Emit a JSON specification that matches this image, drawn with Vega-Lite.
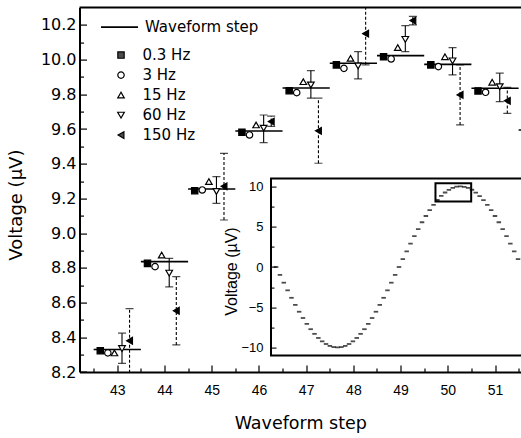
{
  "$schema": "https://vega.github.io/schema/vega-lite/v6.json",
  "width": 441.5,
  "height": 364.4,
  "autosize": {"type": "none"},
  "padding": {"left": 79.5, "top": 7.6, "right": 0, "bottom": 66},
  "background": "white",
  "config": {"view": {"stroke": null}, "axis": {"grid": false}, "legend": {"labelLimit": 300}},
  "datasets": {
    "steps": [
      {"step": 43, "x0": 42.5, "x1": 43.5, "v": 8.33},
      {"step": 44, "x0": 43.5, "x1": 44.5, "v": 8.836},
      {"step": 45, "x0": 44.5, "x1": 45.5, "v": 9.255},
      {"step": 46, "x0": 45.5, "x1": 46.5, "v": 9.589},
      {"step": 47, "x0": 46.5, "x1": 47.5, "v": 9.837},
      {"step": 48, "x0": 47.5, "x1": 48.5, "v": 9.979},
      {"step": 49, "x0": 48.5, "x1": 49.5, "v": 10.023},
      {"step": 50, "x0": 49.5, "x1": 50.5, "v": 9.973},
      {"step": 51, "x0": 50.5, "x1": 51.5, "v": 9.835},
      {"step": 52, "x0": 51.5, "x1": 52.5, "v": 9.595}
    ],
    "pts": [
      {"freq": "0.3 Hz", "x": 42.64, "v": 8.323},
      {"freq": "3 Hz", "x": 42.8, "v": 8.31},
      {"freq": "15 Hz", "x": 42.94, "v": 8.31},
      {"freq": "60 Hz", "x": 43.1, "v": 8.335, "lo": 8.25, "hi": 8.424},
      {"freq": "150 Hz", "x": 43.26, "v": 8.38, "lo": 8.195, "hi": 8.565},
      {"freq": "0.3 Hz", "x": 43.64, "v": 8.826},
      {"freq": "3 Hz", "x": 43.8, "v": 8.807},
      {"freq": "15 Hz", "x": 43.94, "v": 8.874},
      {"freq": "60 Hz", "x": 44.1, "v": 8.77, "lo": 8.69, "hi": 8.855},
      {"freq": "150 Hz", "x": 44.25, "v": 8.553, "lo": 8.356, "hi": 8.75},
      {"freq": "0.3 Hz", "x": 44.64, "v": 9.245},
      {"freq": "3 Hz", "x": 44.8, "v": 9.249},
      {"freq": "15 Hz", "x": 44.94, "v": 9.297},
      {"freq": "60 Hz", "x": 45.1, "v": 9.24, "lo": 9.172, "hi": 9.326},
      {"freq": "150 Hz", "x": 45.26, "v": 9.27, "lo": 9.076, "hi": 9.46},
      {"freq": "0.3 Hz", "x": 45.64, "v": 9.582},
      {"freq": "3 Hz", "x": 45.8, "v": 9.566},
      {"freq": "15 Hz", "x": 45.94, "v": 9.624},
      {"freq": "60 Hz", "x": 46.1, "v": 9.605, "lo": 9.522, "hi": 9.681},
      {"freq": "150 Hz", "x": 46.26, "v": 9.643, "lo": 9.615, "hi": 9.675},
      {"freq": "0.3 Hz", "x": 46.64, "v": 9.821},
      {"freq": "3 Hz", "x": 46.8, "v": 9.81},
      {"freq": "15 Hz", "x": 46.94, "v": 9.873},
      {"freq": "60 Hz", "x": 47.1, "v": 9.854, "lo": 9.778, "hi": 9.937},
      {"freq": "150 Hz", "x": 47.26, "v": 9.59, "lo": 9.403, "hi": 9.778},
      {"freq": "0.3 Hz", "x": 47.64, "v": 9.97},
      {"freq": "3 Hz", "x": 47.8, "v": 9.95},
      {"freq": "15 Hz", "x": 47.94, "v": 10.008},
      {"freq": "60 Hz", "x": 48.1, "v": 9.964, "lo": 9.889, "hi": 10.046},
      {"freq": "150 Hz", "x": 48.26, "v": 10.15, "lo": 9.97, "hi": 10.33},
      {"freq": "0.3 Hz", "x": 48.64, "v": 10.017},
      {"freq": "3 Hz", "x": 48.8, "v": 10.004},
      {"freq": "15 Hz", "x": 48.94, "v": 10.07},
      {"freq": "60 Hz", "x": 49.1, "v": 10.117, "lo": 10.046, "hi": 10.196},
      {"freq": "150 Hz", "x": 49.26, "v": 10.225, "lo": 10.2, "hi": 10.25},
      {"freq": "0.3 Hz", "x": 49.64, "v": 9.97},
      {"freq": "3 Hz", "x": 49.8, "v": 9.96},
      {"freq": "15 Hz", "x": 49.94, "v": 10.017},
      {"freq": "60 Hz", "x": 50.1, "v": 9.993, "lo": 9.912, "hi": 10.069},
      {"freq": "150 Hz", "x": 50.26, "v": 9.797, "lo": 9.624, "hi": 9.97},
      {"freq": "0.3 Hz", "x": 50.64, "v": 9.82},
      {"freq": "3 Hz", "x": 50.8, "v": 9.812},
      {"freq": "15 Hz", "x": 50.94, "v": 9.87},
      {"freq": "60 Hz", "x": 51.1, "v": 9.844, "lo": 9.758, "hi": 9.922},
      {"freq": "150 Hz", "x": 51.26, "v": 9.763, "lo": 9.69, "hi": 9.84}
    ],
    "sine": [
      {"n": 1, "v": 0}, {"n": 2, "v": -0.98}, {"n": 3, "v": -1.95}, {"n": 4, "v": -2.9},
      {"n": 5, "v": -3.83}, {"n": 6, "v": -4.71}, {"n": 7, "v": -5.56}, {"n": 8, "v": -6.34},
      {"n": 9, "v": -7.07}, {"n": 10, "v": -7.73}, {"n": 11, "v": -8.31}, {"n": 12, "v": -8.82},
      {"n": 13, "v": -9.24}, {"n": 14, "v": -9.57}, {"n": 15, "v": -9.81}, {"n": 16, "v": -9.95},
      {"n": 17, "v": -10}, {"n": 18, "v": -9.95}, {"n": 19, "v": -9.81}, {"n": 20, "v": -9.57},
      {"n": 21, "v": -9.24}, {"n": 22, "v": -8.82}, {"n": 23, "v": -8.31}, {"n": 24, "v": -7.73},
      {"n": 25, "v": -7.07}, {"n": 26, "v": -6.34}, {"n": 27, "v": -5.56}, {"n": 28, "v": -4.71},
      {"n": 29, "v": -3.83}, {"n": 30, "v": -2.9}, {"n": 31, "v": -1.95}, {"n": 32, "v": -0.98},
      {"n": 33, "v": 0}, {"n": 34, "v": 0.98}, {"n": 35, "v": 1.95}, {"n": 36, "v": 2.9},
      {"n": 37, "v": 3.83}, {"n": 38, "v": 4.71}, {"n": 39, "v": 5.56}, {"n": 40, "v": 6.34},
      {"n": 41, "v": 7.07}, {"n": 42, "v": 7.73}, {"n": 43, "v": 8.33}, {"n": 44, "v": 8.84},
      {"n": 45, "v": 9.26}, {"n": 46, "v": 9.59}, {"n": 47, "v": 9.84}, {"n": 48, "v": 9.98},
      {"n": 49, "v": 10.02}, {"n": 50, "v": 9.97}, {"n": 51, "v": 9.84}, {"n": 52, "v": 9.6},
      {"n": 53, "v": 9.24}, {"n": 54, "v": 8.82}, {"n": 55, "v": 8.31}, {"n": 56, "v": 7.73},
      {"n": 57, "v": 7.07}, {"n": 58, "v": 6.34}, {"n": 59, "v": 5.56}, {"n": 60, "v": 4.71},
      {"n": 61, "v": 3.83}, {"n": 62, "v": 2.9}, {"n": 63, "v": 1.95}, {"n": 64, "v": 0.98}
    ],
    "frame": [{"a": -0.33, "b": 80, "lo": -11, "hi": 11}],
    "box": [{"a": 42.5, "b": 51.8, "lo": 8.15, "hi": 10.4}]
  },
  "layer": [
    {
      "resolve": {"axis": {"x": "independent", "y": "independent"}},
      "layer": [
        {
          "data": {"name": "steps"},
          "mark": {"type": "rule", "strokeWidth": 1.6, "clip": true},
          "encoding": {
            "x": {
              "field": "x0", "type": "quantitative",
              "scale": {"domain": [42.2, 51.55], "nice": false, "zero": false},
              "axis": {
                "title": "Waveform step", "orient": "bottom",
                "values": [43, 44, 45, 46, 47, 48, 49, 50, 51],
                "format": "d",
                "tickSize": -7, "tickColor": "black", "tickWidth": 1.2,
                "domainColor": "black", "domainWidth": 2,
                "labelFont": "Liberation Sans", "labelFontSize": 14, "labelColor": "black", "labelPadding": 18,
                "labelFlush": false, "labelOverlap": false,
                "titleFont": "DejaVu Sans", "titleFontSize": 17.5, "titleFontWeight": "normal", "titleColor": "black",
                "titleBaseline": "alphabetic", "titleY": 56, "zindex": 1
              }
            },
            "x2": {"field": "x1"},
            "y": {
              "field": "v", "type": "quantitative",
              "scale": {"domain": [8.2, 10.3], "nice": false, "zero": false},
              "axis": {
                "title": "Voltage (µV)", "orient": "left",
                "values": [8.2, 8.4, 8.6, 8.8, 9.0, 9.2, 9.4, 9.6, 9.8, 10.0, 10.2],
                "format": ".1f",
                "tickSize": -7, "tickColor": "black", "tickWidth": 1.2,
                "domainColor": "black", "domainWidth": 2,
                "labelFont": "DejaVu Sans", "labelFontSize": 16, "labelColor": "black", "labelPadding": 10.5,
                "labelFlush": false, "labelOverlap": false,
                "titleFont": "DejaVu Sans", "titleFontSize": 18, "titleFontWeight": "normal", "titleColor": "black",
                "titleBaseline": "alphabetic", "titleX": -58.5, "titleY": 197, "zindex": 1
              }
            },
            "stroke": {
              "datum": "Waveform step", "type": "nominal",
              "scale": {"range": ["black"]},
              "legend": {
                "title": null, "orient": "none", "legendX": 20.5, "legendY": 0,
                "symbolType": "stroke", "symbolSize": 1369, "symbolStrokeWidth": 1.6, "symbolStrokeColor": "black",
                "labelFont": "DejaVu Sans", "labelFontSize": 15, "labelColor": "black", "labelOffset": 6, "padding": 0
              }
            }
          }
        },
        {
          "data": {"values": [{}]},
          "mark": {"type": "rule", "color": "black", "strokeWidth": 2},
          "encoding": {
            "y": {
              "datum": 10.3, "type": "quantitative",
              "axis": {
                "orient": "left", "title": null, "labels": false, "domain": false,
                "values": [8.3, 8.5, 8.7, 8.9, 9.1, 9.3, 9.5, 9.7, 9.9, 10.1],
                "tickSize": -4, "tickColor": "black", "tickWidth": 1.2, "zindex": 1
              }
            }
          }
        },
        {
          "data": {"name": "pts"},
          "transform": [{"filter": "isValid(datum.lo)"}],
          "mark": {"type": "rule", "color": "black", "strokeWidth": 1.1, "clip": true},
          "encoding": {
            "x": {
              "field": "x", "type": "quantitative",
              "axis": {
                "orient": "bottom", "title": null, "labels": false, "domain": false,
                "values": [42.5, 43.5, 44.5, 45.5, 46.5, 47.5, 48.5, 49.5, 50.5, 51.5],
                "tickSize": -4, "tickColor": "black", "tickWidth": 1.2, "zindex": 1
              }
            },
            "y": {"field": "lo", "type": "quantitative", "axis": null},
            "y2": {"field": "hi"},
            "strokeDash": {"condition": {"test": "datum.freq === '150 Hz'", "value": [3, 2]}, "value": [1, 0]}
          }
        },
        {
          "data": {"name": "pts"},
          "transform": [{"filter": "isValid(datum.lo)"}],
          "mark": {"type": "tick", "orient": "horizontal", "color": "black", "size": 8, "thickness": 1.2, "clip": true},
          "encoding": {
            "x": {"field": "x", "type": "quantitative", "axis": null},
            "y": {"field": "lo", "type": "quantitative", "axis": null}
          }
        },
        {
          "data": {"name": "pts"},
          "transform": [{"filter": "isValid(datum.hi)"}],
          "mark": {"type": "tick", "orient": "horizontal", "color": "black", "size": 8, "thickness": 1.2, "clip": true},
          "encoding": {
            "x": {"field": "x", "type": "quantitative", "axis": null},
            "y": {"field": "hi", "type": "quantitative", "axis": null}
          }
        },
        {
          "data": {"name": "pts"},
          "mark": {"type": "point", "stroke": "black", "strokeWidth": 1.2, "filled": false},
          "encoding": {
            "x": {"field": "x", "type": "quantitative", "axis": null},
            "y": {"field": "v", "type": "quantitative", "axis": null},
            "shape": {
              "field": "freq", "type": "nominal",
              "scale": {"domain": ["0.3 Hz", "3 Hz", "15 Hz", "60 Hz", "150 Hz"], "range": ["square", "circle", "triangle-up", "triangle-down", "triangle-left"]},
              "legend": {
                "title": null, "orient": "none", "legendX": 34, "legendY": 40,
                "labelFont": "DejaVu Sans", "labelFontSize": 15, "labelColor": "black", "labelOffset": 14,
                "rowPadding": 4, "symbolStrokeColor": "black", "symbolStrokeWidth": 1.2, "padding": 0
              }
            },
            "fill": {
              "field": "freq", "type": "nominal",
              "scale": {"domain": ["0.3 Hz", "3 Hz", "15 Hz", "60 Hz", "150 Hz"], "range": ["black", "white", "transparent", "white", "black"]}
            },
            "size": {
              "field": "freq", "type": "ordinal",
              "scale": {"domain": ["0.3 Hz", "3 Hz", "15 Hz", "60 Hz", "150 Hz"], "range": [40, 45, 35, 75, 40]}
            },
            "opacity": {
              "field": "freq", "type": "ordinal",
              "scale": {"domain": ["0.3 Hz", "3 Hz", "15 Hz", "60 Hz", "150 Hz"], "range": [1, 1, 0.55, 1, 1]}
            }
          }
        }
      ]
    },
    {
      "resolve": {"axis": {"y": "independent"}},
      "layer": [
        {
          "data": {"name": "frame"},
          "mark": {"type": "rect", "fill": "white", "stroke": "black", "strokeWidth": 2, "clip": true},
          "encoding": {
            "x": {
              "field": "a", "type": "quantitative",
              "scale": {"domain": [-0.33, 64.8], "range": [191.5, 441.6], "nice": false, "zero": false},
              "axis": null
            },
            "x2": {"field": "b"},
            "y": {
              "field": "lo", "type": "quantitative",
              "scale": {"domain": [-11, 11], "range": [347.9, 170.9], "nice": false, "zero": false},
              "axis": {
                "title": "Voltage (µV)", "orient": "left", "offset": -191.5,
                "values": [-10, -5, 0, 5, 10],
                "format": "d",
                "tickSize": -5, "domain": false, "tickColor": "black", "tickWidth": 1.1,
                "labelFont": "Liberation Sans", "labelFontSize": 13, "labelColor": "black", "labelPadding": 13,
                "labelFlush": false, "labelOverlap": false,
                "titleFont": "Liberation Sans", "titleFontSize": 16, "titleFontWeight": "normal", "titleColor": "black",
                "titleBaseline": "alphabetic", "titleX": -34.5, "titleY": 263.4, "zindex": 1
              }
            },
            "y2": {"field": "hi"}
          }
        },
        {
          "data": {"name": "sine"},
          "mark": {"type": "tick", "orient": "horizontal", "color": "black", "size": 4.5, "thickness": 1.8, "clip": true},
          "encoding": {
            "x": {"field": "n", "type": "quantitative", "axis": null},
            "y": {
              "field": "v", "type": "quantitative",
              "axis": {
                "orient": "left", "offset": -191.5, "title": null, "labels": false, "domain": false,
                "values": [-7.5, -2.5, 2.5, 7.5],
                "tickSize": -3, "tickColor": "black", "tickWidth": 1.1, "zindex": 1
              }
            }
          }
        },
        {
          "data": {"name": "box"},
          "mark": {"type": "rect", "fillOpacity": 0, "stroke": "black", "strokeWidth": 2},
          "encoding": {
            "x": {"field": "a", "type": "quantitative", "axis": null},
            "x2": {"field": "b"},
            "y": {"field": "lo", "type": "quantitative", "axis": null},
            "y2": {"field": "hi"}
          }
        }
      ]
    }
  ],
  "resolve": {"scale": {"x": "independent", "y": "independent"}}
}
